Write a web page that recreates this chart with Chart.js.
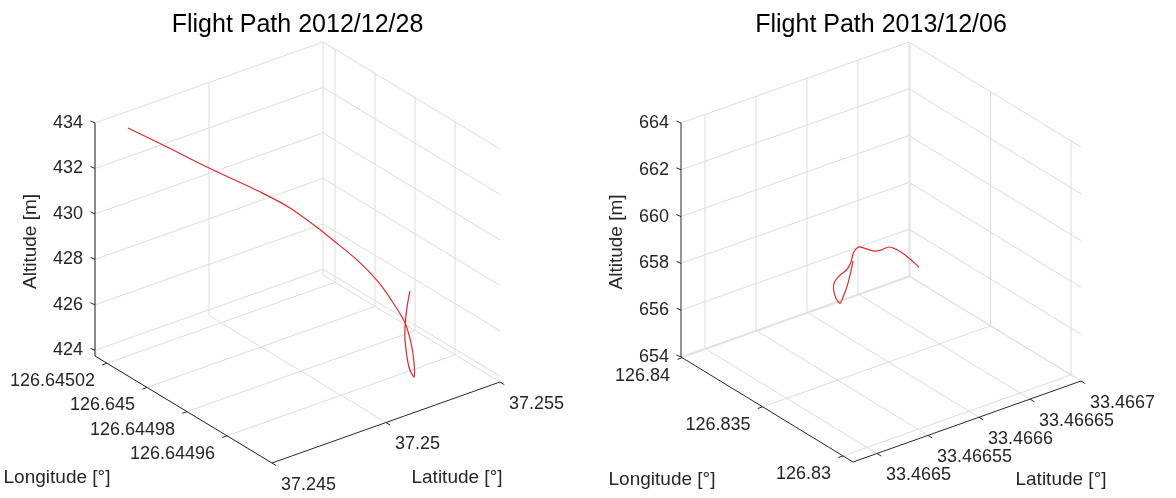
<!DOCTYPE html>
<html>
<head>
<meta charset="utf-8">
<script src="https://cdn.jsdelivr.net/npm/chart.js@4.4.1/dist/chart.umd.min.js"></script>
<style>
  html, body { margin: 0; padding: 0; background: #fff; }
  #wrap { display: flex; width: 1176px; height: 498px; }
  .panel { position: relative; width: 588px; height: 498px; }
</style>
</head>
<body>
<div id="wrap">
  <div class="panel"><canvas id="c1" width="588" height="498"></canvas></div>
  <div class="panel"><canvas id="c2" width="588" height="498"></canvas></div>
</div>
<script>
// --- flight 2012/12/28 ---
const lat1 = [37.245994, 37.246827, 37.247920, 37.249183, 37.249849, 37.250515, 37.250896, 37.251446, 37.251970, 37.252371,
              37.252589, 37.252732, 37.252800, 37.252800, 37.252681, 37.252586, 37.252586, 37.252633, 37.252705];
const lon1 = [126.6450208, 126.6450128, 126.6450023, 126.6449902, 126.6449838, 126.6449774, 126.6449737, 126.6449685, 126.6449634, 126.6449596,
              126.6449575, 126.6449561, 126.6449554, 126.6449554, 126.6449566, 126.6449575, 126.6449575, 126.6449570, 126.6449564];
const alt1 = [433.70, 433.08, 432.24, 431.34, 430.78, 430.00, 429.49, 428.74, 427.81, 426.81,
              426.14, 425.28, 424.42, 423.80, 424.22, 425.39, 425.96, 426.86, 427.56];
const latLim1 = [37.245, 37.255];
const lonLim1 = [126.6449375, 126.645026];
const altLim1 = [423.75, 434];
const latTicks1 = [37.245, 37.25, 37.255];
const latTickLabels1 = ['37.245', '37.25', '37.255'];
const lonTicks1 = [126.64496, 126.64498, 126.645, 126.64502];
const lonTickLabels1 = ['126.64496', '126.64498', '126.645', '126.64502'];
const altTicks1 = [424, 426, 428, 430, 432, 434];

// --- flight 2013/12/06 ---
const lat2 = [33.4665782, 33.4665753, 33.4665714, 33.4665675, 33.4665645, 33.4665606, 33.4665586, 33.4665596, 33.4665655, 33.4665714,
              33.4665753, 33.4665782, 33.4665831, 33.4665880, 33.4665978, 33.4666047, 33.4666125, 33.4666214, 33.4666312, 33.4666420];
const lon2 = [126.83582, 126.83580, 126.83578, 126.83577, 126.83576, 126.83577, 126.83579, 126.83580, 126.83581, 126.83580,
              126.83579, 126.83580, 126.83581, 126.83580, 126.83579, 126.83578, 126.83579, 126.83580, 126.83578, 126.83577];
const alt2 = [658.32, 657.85, 657.32, 656.95, 656.74, 657.01, 657.39, 657.71, 657.92, 658.04,
              658.28, 658.66, 658.84, 658.73, 658.45, 658.38, 658.39, 658.12, 657.67, 657.08];
const latLim2 = [33.4664765, 33.4667];
const lonLim2 = [126.82938, 126.84007];
const altLim2 = [654, 664];
const latTicks2 = [33.4665, 33.46655, 33.4666, 33.46665, 33.4667];
const latTickLabels2 = ['33.4665', '33.46655', '33.4666', '33.46665', '33.4667'];
const lonTicks2 = [126.83, 126.835, 126.84];
const lonTickLabels2 = ['126.83', '126.835', '126.84'];
const altTicks2 = [654, 656, 658, 660, 662, 664];

// screen frame of each 3d box (front corner + edge vectors), in canvas px
const layouts = [
  { F: [272, 463], A: [228, -81], B: [-177, -107], C: [0, -233], lonLabel: [57, 478], latLabel: [457, 478] },
  { F: [265, 462], A: [228, -81], B: [-172, -105], C: [0, -234], lonLabel: [74, 480], latLabel: [473, 480] }
];

const FONT = '"Liberation Sans", Arial, Helvetica, sans-serif';
const GRID = '#dcdcdc';
const AXIS = '#262626';

function buildChart(canvasId, title, d, lay) {
  const [la0, la1] = d.latLim, [lo0, lo1] = d.lonLim, [al0, al1] = d.altLim;
  const P = (la, lo, al) => {
    const u = (la - la0) / (la1 - la0);
    const v = (lo - lo0) / (lo1 - lo0);
    const w = (al - al0) / (al1 - al0);
    return {
      x: lay.F[0] + u * lay.A[0] + v * lay.B[0] + w * lay.C[0],
      y: lay.F[1] + u * lay.A[1] + v * lay.B[1] + w * lay.C[1]
    };
  };
  const norm = (vx, vy) => { const l = Math.hypot(vx, vy); return [vx / l, vy / l]; };
  const dirA = norm(-lay.A[0], -lay.A[1]);   // outward from lat side
  const dirB = norm(-lay.B[0], -lay.B[1]);   // outward from lon side
  const dirZ = [-0.91, -0.41];

  const datasets = [];
  const seg = (p, q, color, order) => datasets.push({
    data: [p, q], showLine: true, borderColor: color, borderWidth: 1,
    pointRadius: 0, order: order
  });

  // grid: floor, left back wall (lon = max), right back wall (lat = max)
  d.latTicks.forEach(t => seg(P(t, lo0, al0), P(t, lo1, al0), GRID, 3));
  d.lonTicks.forEach(t => seg(P(la0, t, al0), P(la1, t, al0), GRID, 3));
  d.latTicks.forEach(t => seg(P(t, lo1, al0), P(t, lo1, al1), GRID, 3));
  d.altTicks.forEach(t => seg(P(la0, lo1, t), P(la1, lo1, t), GRID, 3));
  d.lonTicks.forEach(t => seg(P(la1, t, al0), P(la1, t, al1), GRID, 3));
  d.altTicks.forEach(t => seg(P(la1, lo0, t), P(la1, lo1, t), GRID, 3));

  // axes
  seg(P(la0, lo1, al0), P(la0, lo1, al1), AXIS, 2);
  seg(P(la0, lo0, al0), P(la0, lo1, al0), AXIS, 2);
  seg(P(la0, lo0, al0), P(la1, lo0, al0), AXIS, 2);
  const tk = 5;
  d.altTicks.forEach(t => { const p = P(la0, lo1, t); seg(p, { x: p.x + dirZ[0] * tk, y: p.y + dirZ[1] * tk }, AXIS, 2); });
  d.lonTicks.forEach(t => { const p = P(la0, t, al0); seg(p, { x: p.x + dirA[0] * tk, y: p.y + dirA[1] * tk }, AXIS, 2); });
  d.latTicks.forEach(t => { const p = P(t, lo0, al0); seg(p, { x: p.x + dirB[0] * tk, y: p.y + dirB[1] * tk }, AXIS, 2); });

  // flight path
  datasets.push({
    data: d.lat.map((la, i) => P(la, d.lon[i], d.alt[i])),
    showLine: true, borderColor: '#e8262a', borderWidth: 1.2,
    pointRadius: 0, tension: 0.25, order: 1
  });

  const textPlugin = {
    id: 'boxText',
    afterDraw(chart) {
      const ctx = chart.ctx;
      const sx = chart.scales.x, sy = chart.scales.y;
      const px = p => [sx.getPixelForValue(p.x), sy.getPixelForValue(p.y)];
      ctx.save();
      ctx.fillStyle = AXIS;
      ctx.textBaseline = 'middle';
      ctx.font = '18px ' + FONT;

      ctx.textAlign = 'right';
      d.altTicks.forEach(t => { const [x, y] = px(P(la0, lo1, t)); ctx.fillText(String(t), x - 12, y); });
      d.lonTicks.forEach((t, i) => { const [x, y] = px(P(la0, t, al0)); ctx.fillText(d.lonTickLabels[i], x - 12, y + 18); });
      ctx.textAlign = 'left';
      d.latTicks.forEach((t, i) => { const [x, y] = px(P(t, lo0, al0)); ctx.fillText(d.latTickLabels[i], x + 9, y + 22); });

      // axis labels
      ctx.font = '19px ' + FONT;
      ctx.textAlign = 'center';
      ctx.fillText('Longitude [°]', lay.lonLabel[0], lay.lonLabel[1]);
      ctx.fillText('Latitude [°]', lay.latLabel[0], lay.latLabel[1]);
      const zTop = px(P(la0, lo1, al1)), zBot = px(P(la0, lo1, al0));
      ctx.save();
      ctx.translate(zTop[0] - 64, (zTop[1] + zBot[1]) / 2 + 2);
      ctx.rotate(-Math.PI / 2);
      ctx.fillText('Altitude [m]', 0, 0);
      ctx.restore();

      // title
      const left = px(P(la0, lo1, al0)), right = px(P(la1, lo0, al0));
      ctx.fillStyle = '#000';
      ctx.font = '25px ' + FONT;
      ctx.fillText(title, (left[0] + right[0]) / 2, 25);
      ctx.restore();
    }
  };

  return new Chart(document.getElementById(canvasId), {
    type: 'scatter',
    data: { datasets: datasets },
    options: {
      responsive: false,
      animation: false,
      events: [],
      layout: { padding: 0 },
      plugins: { legend: { display: false }, tooltip: { enabled: false } },
      scales: {
        x: { type: 'linear', min: 0, max: 588, display: false },
        y: { type: 'linear', min: 0, max: 498, reverse: true, display: false }
      }
    },
    plugins: [textPlugin]
  });
}

buildChart('c1', 'Flight Path 2012/12/28', {
  lat: lat1, lon: lon1, alt: alt1,
  latLim: latLim1, lonLim: lonLim1, altLim: altLim1,
  latTicks: latTicks1, latTickLabels: latTickLabels1,
  lonTicks: lonTicks1, lonTickLabels: lonTickLabels1,
  altTicks: altTicks1
}, layouts[0]);

buildChart('c2', 'Flight Path 2013/12/06', {
  lat: lat2, lon: lon2, alt: alt2,
  latLim: latLim2, lonLim: lonLim2, altLim: altLim2,
  latTicks: latTicks2, latTickLabels: latTickLabels2,
  lonTicks: lonTicks2, lonTickLabels: lonTickLabels2,
  altTicks: altTicks2
}, layouts[1]);
</script>
</body>
</html>
